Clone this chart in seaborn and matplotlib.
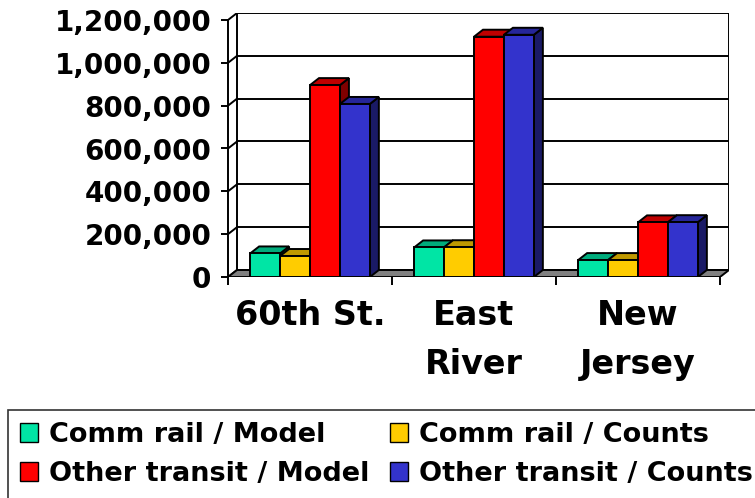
import numpy as np
import pandas as pd
import matplotlib
matplotlib.use("Agg")
import matplotlib.pyplot as plt
import seaborn as sns
from matplotlib.patches import Polygon, Patch
from matplotlib.colors import to_rgb

# ---------------- data ----------------
regions = ["60th St.", "East River", "New Jersey"]
region_labels = ["60th St.", "East\nRiver", "New\nJersey"]
series = ["Comm rail / Model", "Comm rail / Counts",
          "Other transit / Model", "Other transit / Counts"]
comm_rail_model = [110000, 138000, 79000]
comm_rail_counts = [98000, 139000, 79000]
other_transit_model = [896000, 1122000, 255000]
other_transit_counts = [808000, 1131000, 256000]
y_ticks = [0, 200000, 400000, 600000, 800000, 1000000, 1200000]
y_tick_labels = ["0", "200,000", "400,000", "600,000", "800,000",
                 "1,000,000", "1,200,000"]
colors = ["#00E5A5", "#FFCC00", "#FF0000", "#3333CC"]

values = [comm_rail_model, comm_rail_counts, other_transit_model, other_transit_counts]
rows = []
for s, vals in zip(series, values):
    for r, v in zip(regions, vals):
        rows.append({"region": r, "series": s, "value": v})
df = pd.DataFrame(rows)

# ---------------- figure ----------------
sns.set_style("white")
plt.rcParams["font.family"] = ["DejaVu Sans"]
plt.rcParams["font.weight"] = "bold"
plt.rcParams["text.color"] = "black"
plt.rcParams["xtick.color"] = "black"
plt.rcParams["ytick.color"] = "black"

W, H = 755, 498
fig = plt.figure(figsize=(W / 100, H / 100), dpi=100)

# plot area in pixels
front_left, front_right = 228, 720
depth_dx_px, depth_dy_px = 9, 7
y0_px, ytop_px = 277, 20
ax_top_px = ytop_px - depth_dy_px
ax = fig.add_axes([front_left / W, 1 - y0_px / H,
                   (front_right + depth_dx_px - front_left) / W,
                   (y0_px - ax_top_px) / H])

ymax = y_ticks[-1]
px_per_val = (y0_px - ytop_px) / ymax
px_per_cat = (front_right - front_left) / 3.0
dy = depth_dy_px / px_per_val
dx = depth_dx_px / px_per_cat

bar_lw = 1.4
sns.barplot(data=df, x="region", y="value", hue="series", order=regions,
            hue_order=series, palette=colors, saturation=1, width=0.73,
            edgecolor="black", linewidth=bar_lw, errorbar=None, legend=False, ax=ax)

ax.set_xlim(-0.5, 2.5 + dx)
ax.set_ylim(0, ymax + dy)
for sp in ax.spines.values():
    sp.set_visible(False)

lw = 1.4
# floor
floor = Polygon([(-0.5, 0), (2.5, 0), (2.5 + dx, dy), (-0.5 + dx, dy)],
                closed=True, facecolor="#808080", edgecolor="black",
                linewidth=lw, zorder=1)
ax.add_patch(floor)

# back wall grid and side wall lines
for v in y_ticks:
    ax.plot([-0.5 + dx, 2.5 + dx], [v + dy, v + dy], color="black", lw=lw, zorder=0.5)
    ax.plot([-0.5, -0.5 + dx], [v, v + dy], color="black", lw=lw, zorder=0.5)
ax.plot([-0.5 + dx, -0.5 + dx], [dy, ymax + dy], color="black", lw=lw, zorder=0.5)
ax.plot([2.5 + dx, 2.5 + dx], [dy, ymax + dy], color="black", lw=lw, zorder=0.5)
ax.plot([-0.5, -0.5], [0, ymax], color="black", lw=lw, zorder=0.6, clip_on=False)

# 3D faces on bars
bars = sorted([p for p in ax.patches if p is not floor], key=lambda p: p.get_x())
for i, p in enumerate(bars):
    x0, w, h = p.get_x(), p.get_width(), p.get_height()
    c = np.array(to_rgb(p.get_facecolor()))
    top = Polygon([(x0, h), (x0 + w, h), (x0 + w + dx, h + dy), (x0 + dx, h + dy)],
                  closed=True, facecolor=c * 0.75, edgecolor="black", linewidth=bar_lw,
                  zorder=2 + 0.1 * i)
    side = Polygon([(x0 + w, 0), (x0 + w + dx, dy), (x0 + w + dx, h + dy), (x0 + w, h)],
                   closed=True, facecolor=c * 0.5, edgecolor="black", linewidth=bar_lw,
                   zorder=2 + 0.1 * i)
    ax.add_patch(side)
    ax.add_patch(top)
    p.set_zorder(2 + 0.1 * i + 0.05)

# ticks
ax.set_yticks(y_ticks)
ax.set_yticklabels(y_tick_labels, fontsize=20, fontweight="bold", color="black")
ax.tick_params(axis="y", left=True, length=5, width=lw, pad=7, direction="out")
ax.set_xticks([0, 1, 2])
ax.set_xticklabels(region_labels, fontsize=24, fontweight="bold", linespacing=1.6,
                   color="black")
ax.set_xticks([-0.5, 0.5, 1.5, 2.5], minor=True)
ax.tick_params(axis="x", which="major", bottom=True, length=0, pad=16)
ax.tick_params(axis="x", which="minor", bottom=True, length=6, width=lw, direction="out")
ax.set_xlabel("")
ax.set_ylabel("")

# legend (row-wise order: ncol=2 fills by column)
order = [0, 2, 1, 3]
handles = [Patch(facecolor=colors[k], edgecolor="black", linewidth=1.0) for k in order]
labels = [series[k] for k in order]
leg = fig.legend(handles, labels, loc="upper left",
                 bbox_to_anchor=(8 / W, 1 - 410 / H), ncol=2,
                 prop={"size": 19.5, "weight": "bold"},
                 frameon=True, fancybox=False, edgecolor="black",
                 handlelength=0.67, handleheight=0.67, handletextpad=0.4,
                 columnspacing=0.75, labelspacing=0.47, borderpad=0.45,
                 borderaxespad=0)
leg.get_frame().set_linewidth(1.2)
for t in leg.get_texts():
    t.set_color("black")

fig.savefig("out.png", dpi=100)
